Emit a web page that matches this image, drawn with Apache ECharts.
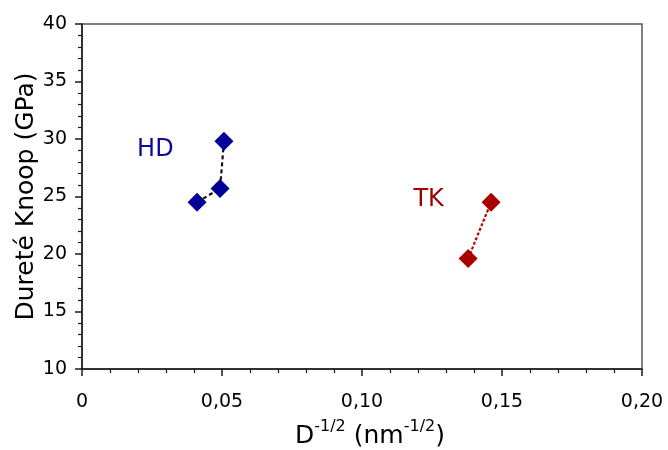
<!DOCTYPE html>
<html><head><meta charset="utf-8">
<script src="https://cdn.jsdelivr.net/npm/echarts@6/dist/echarts.min.js"></script>
<style>html,body{margin:0;padding:0;background:#fff}#c{width:668px;height:450px}</style>
</head><body><div id="c"></div>
<script>
const hdX = [0.0411, 0.0493, 0.0507];
const hdY = [24.5, 25.7, 29.8];
const tkX = [0.1379, 0.1461];
const tkY = [19.6, 24.5];
const groupNames = ['HD', 'TK'];
const groupLabelX = [0.0262, 0.1238];
const groupLabelY = [29.1, 24.7];
const xTicks = [0, 0.05, 0.10, 0.15, 0.20];
const yTicks = [10, 15, 20, 25, 30, 35, 40];

const FONT = 'DejaVu Sans';
const chart = echarts.init(document.getElementById('c'));
const pair = (xs, ys) => xs.map((x, i) => [x, ys[i]]);
const fmtX = v => v === 0 ? '0' : v.toFixed(2).replace('.', ',');
const axisCommon = {
  axisLine: {show: true, lineStyle: {color: '#1a1a1a', width: 1.5}},
  axisTick: {show: true, inside: false, length: 7, lineStyle: {color: '#1a1a1a', width: 1.5}},
  minorTick: {show: true, splitNumber: 5, length: 4, lineStyle: {color: '#1a1a1a', width: 1.2}},
  splitLine: {show: false},
  axisLabel: {color: '#000', fontFamily: FONT, fontSize: 19}
};
chart.setOption({
  animation: false,
  grid: {left: 82, right: 26, top: 24, bottom: 81, show: true, borderColor: '#555', borderWidth: 1.5,
    containLabel: false, outerBoundsMode: 'none'},
  xAxis: Object.assign({}, axisCommon, {
    type: 'value', min: xTicks[0], max: xTicks[xTicks.length - 1], interval: 0.05,
    axisLabel: Object.assign({}, axisCommon.axisLabel, {margin: 24, formatter: fmtX}),
    name: '{b|D}{s|-1/2}{b| (nm}{s|-1/2}{b|)}', nameLocation: 'middle', nameGap: 50, nameMoveOverlap: false,
    nameTextStyle: {color: '#000', fontFamily: FONT, padding: [0, 0, 0, 16], rich: {
      b: {fontSize: 25, fontFamily: FONT, color: '#000', lineHeight: 30, verticalAlign: 'bottom'},
      s: {fontSize: 16, fontFamily: FONT, color: '#000', lineHeight: 30, verticalAlign: 'top'}
    }}
  }),
  yAxis: Object.assign({}, axisCommon, {
    type: 'value', min: yTicks[0], max: yTicks[yTicks.length - 1], interval: 5,
    axisLabel: Object.assign({}, axisCommon.axisLabel, {margin: 15}),
    name: 'Dureté Knoop (GPa)', nameLocation: 'middle', nameGap: 43, nameMoveOverlap: false,
    nameTextStyle: {color: '#000', fontFamily: FONT, fontSize: 25}
  }),
  series: [
    {type: 'line', data: pair(hdX, hdY), symbol: 'diamond', symbolSize: 19,
      itemStyle: {color: '#000096'}, lineStyle: {color: '#111', width: 2.2, type: [4, 3]}},
    {type: 'line', data: pair(tkX, tkY), symbol: 'diamond', symbolSize: 19,
      itemStyle: {color: '#a80000'}, lineStyle: {color: '#c00000', width: 2.2, type: [3, 2]}},
    {type: 'scatter', symbolSize: 0, silent: true, itemStyle: {opacity: 1},
      data: groupNames.map((n, i) => ({name: n, value: [groupLabelX[i], groupLabelY[i]],
        label: {color: i === 0 ? '#0c0c96' : '#a00000'}})),
      label: {show: true, position: 'inside', formatter: p => p.name, fontFamily: FONT, fontSize: 24}}
  ]
});
</script></body></html>
